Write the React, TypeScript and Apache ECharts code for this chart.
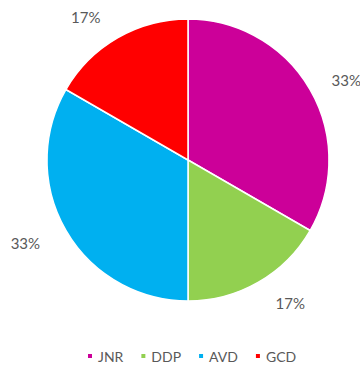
import React, { useEffect, useRef } from "react";
import * as echarts from "echarts";

const categories = ["JNR", "DDP", "AVD", "GCD"];
const values = [2, 1, 2, 1];
const colors = ["#CC0099", "#92D050", "#00B0F0", "#FF0000"];

export default function App() {
  const ref = useRef<HTMLDivElement>(null);
  useEffect(() => {
    if (!ref.current) return;
    const chart = echarts.init(ref.current, null, { renderer: "svg" });
    chart.setOption({
      animation: false,
      backgroundColor: "#ffffff",
      color: colors,
      legend: {
        top: 349,
        left: 86,
        padding: 0,
        icon: "rect",
        itemWidth: 6,
        itemHeight: 6,
        itemGap: 16,
        textStyle: { color: "#595959", fontSize: 14, fontFamily: "Lato" },
        data: categories,
      },
      series: [
        {
          type: "pie",
          center: [188, 160],
          radius: 141,
          startAngle: 90,
          clockwise: true,
          data: categories.map((c, i) =>
            i === 0
              ? { name: c, value: values[i], labelLine: { length: 19, length2: 0 } }
              : { name: c, value: values[i] }
          ),
          itemStyle: { borderColor: "#ffffff", borderWidth: 1.5 },
          label: {
            show: true,
            position: "outside",
            formatter: (p: any) => Math.round(p.percent) + "%",
            color: "#595959",
            fontSize: 15,
            fontFamily: "Lato",
            overflow: "none",
          },
          labelLine: { show: false, length: 24, length2: 0 },
        },
      ],
    });
    return () => chart.dispose();
  }, []);
  return (
    <div
      ref={ref}
      style={{ position: "fixed", left: 0, top: 0, width: 360, height: 367 }}
    />
  );
}
